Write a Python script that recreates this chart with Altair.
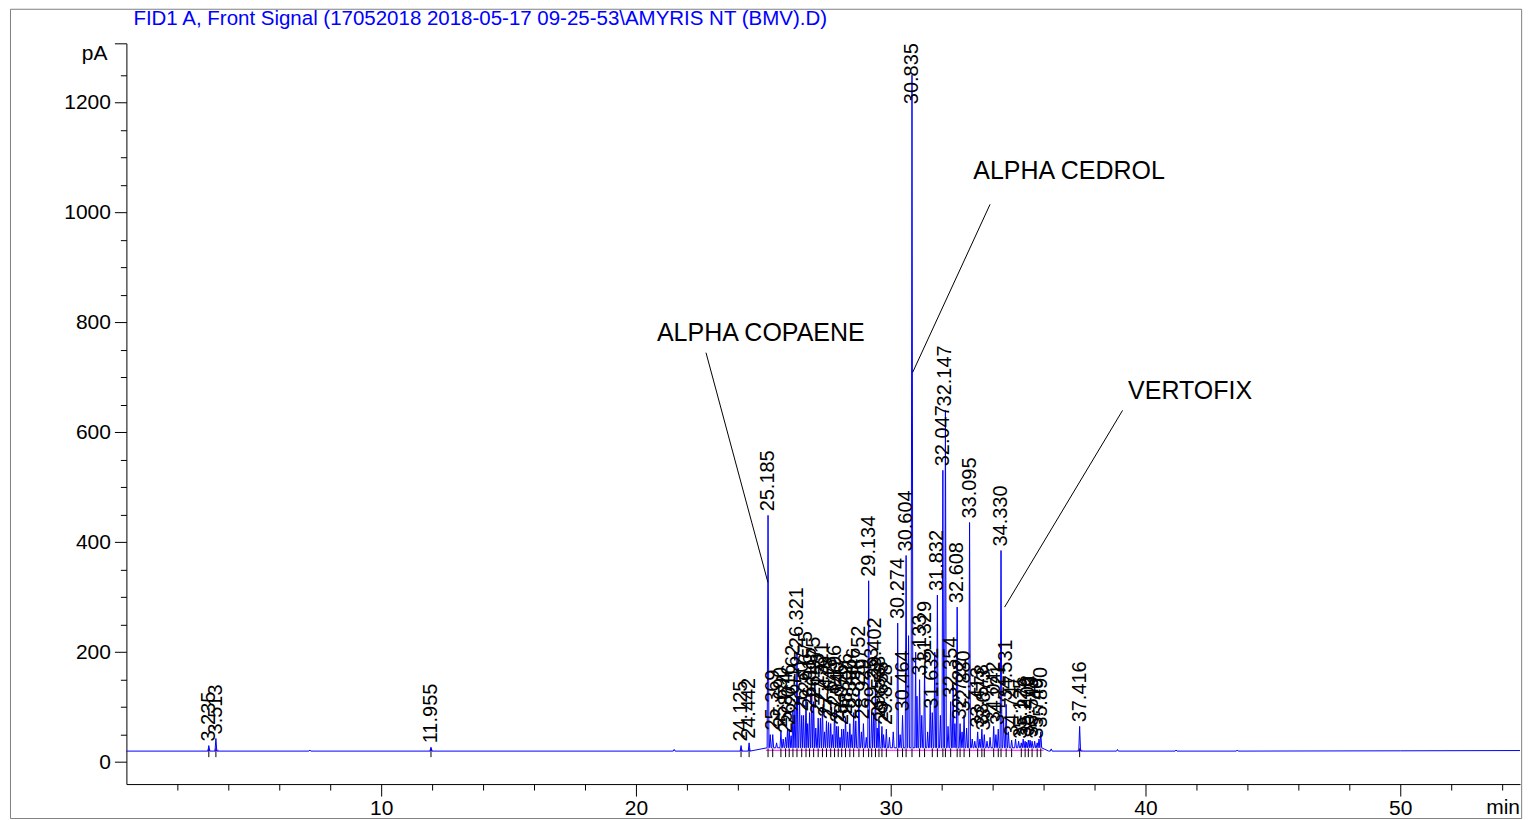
import altair as alt
import pandas as pd

FONT = "Liberation Sans"

title_text = "FID1 A, Front Signal (17052018 2018-05-17 09-25-53\\AMYRIS NT (BMV).D)"

# labelled peaks: retention time (min) and apex height (pA)
peak_rt = [3.235, 3.513, 11.955, 24.125, 24.442, 25.185, 25.369, 25.690, 25.874,
           26.016, 26.162, 26.321, 26.507, 26.675, 26.815, 26.975, 27.153, 27.321,
           27.479, 27.645, 27.796, 27.940, 28.076, 28.226, 28.396, 28.546, 28.752,
           28.929, 29.134, 29.253, 29.402, 29.538, 29.655, 29.828, 30.274, 30.464,
           30.604, 30.835, 31.133, 31.329, 31.632, 31.832, 32.047, 32.147, 32.354,
           32.608, 32.722, 32.880, 33.095, 33.413, 33.578, 33.673, 34.042, 34.221,
           34.330, 34.531, 34.747, 35.125, 35.276, 35.402, 35.549, 35.749, 35.890,
           37.416]
peak_pa = [30, 43, 27, 30, 35, 449, 50, 55, 45,
           60, 95, 200, 85, 120, 90, 110, 80, 100,
           75, 70, 95, 65, 60, 80, 70, 90, 130,
           70, 330, 90, 145, 75, 65, 60, 253, 85,
           376, 1250, 150, 175, 90, 304, 531, 640, 110,
           282, 70, 85, 436, 55, 60, 50, 65, 60,
           385, 105, 40, 35, 38, 40, 38, 35, 55,
           65]

# unlabelled small peaks
minor_rt = [7.20, 21.50, 25.27, 25.52, 25.78, 25.95, 26.09, 26.24, 26.42, 26.58,
            26.74, 26.90, 27.06, 27.24, 27.40, 27.56, 27.72, 27.87, 28.01, 28.15,
            28.31, 28.47, 28.63, 28.85, 29.04, 29.33, 29.47, 29.72, 29.95, 30.10,
            30.37, 30.70, 30.98, 31.03, 31.22, 31.45, 31.55, 31.73, 31.95, 32.25,
            32.45, 32.52, 32.80, 32.98, 33.20, 33.30, 33.50, 33.78, 33.90, 34.13,
            34.43, 34.62, 34.90, 35.02, 35.20, 35.33, 35.47, 35.65, 35.82, 36.30,
            38.90, 41.20, 43.60]
minor_pa = [22, 23, 50, 35, 42, 60, 48, 95, 120, 85,
            70, 130, 62, 80, 55, 72, 50, 65, 45, 60,
            55, 50, 75, 55, 45, 90, 62, 50, 45, 55,
            50, 230, 200, 120, 85, 55, 110, 200, 85, 65,
            140, 70, 55, 62, 42, 38, 42, 38, 45, 50,
            80, 55, 42, 38, 42, 36, 40, 38, 42, 24,
            23, 22, 22]

# detector baseline
base_t = [0.0, 36.2, 50.0, 54.7]
base_pa = [20, 20, 20.5, 21]

# integration baselines (magenta)
bl_start = [3.18, 3.46, 11.90, 24.08, 24.40, 25.10, 37.33]
bl_end = [3.30, 3.62, 12.02, 24.20, 24.50, 36.00, 37.52]

# compound annotations and leader lines
annot_text = ["ALPHA COPAENE", "ALPHA CEDROL", "VERTOFIX"]
annot_t = [24.9, 37.0, 41.75]
annot_pa = [780, 1076, 676]
lead_t1 = [22.75, 33.9, 39.1]
lead_pa1 = [745, 1015, 640]
lead_t2 = [25.18, 30.86, 34.47]
lead_pa2 = [327, 709, 282]

# ---- build tables ----
rows = [{"t": t, "pa": v} for t, v in zip(base_t, base_pa)]
for rt, h in list(zip(peak_rt, peak_pa)) + list(zip(minor_rt, minor_pa)):
    foot = 26 if 25.1 < rt < 36.0 else 20
    rows.append({"t": rt - 0.035, "pa": foot})
    rows.append({"t": rt, "pa": h})
    rows.append({"t": rt + 0.035, "pa": foot})
trace = pd.DataFrame(rows).sort_values("t")

peaks = pd.DataFrame({"rt": peak_rt, "pa": peak_pa,
                      "label": [f"{r:.3f}" for r in peak_rt]})
bls = pd.DataFrame({"s": bl_start, "e": bl_end})
annots = pd.DataFrame({"text": annot_text, "t": annot_t, "pa": annot_pa})
leads = pd.DataFrame({"t1": lead_t1, "p1": lead_pa1, "t2": lead_t2, "p2": lead_pa2})

X_MAX = 54.7
xs = alt.Scale(domain=[0, X_MAX], nice=False, zero=False)
ys = alt.Scale(domain=[-40, 1308], nice=False, zero=False)

x_axis = alt.Axis(
    values=list(range(2, 55, 2)),
    labelExpr="datum.value % 10 === 0 ? datum.label : ''",
    tickSize={"condition": {"test": "datum.value % 10 === 0", "value": 12}, "value": 6},
    title=None, grid=False, labelFlush=False, labelOverlap=False,
    labelPadding=1.5, domainColor="black", tickColor="black",
    labelFont=FONT, labelFontSize=21, labelColor="black", format="d",
)
y_axis = alt.Axis(
    values=list(range(0, 1300, 50)) + [1308],
    labelExpr="datum.value % 200 === 0 ? datum.label : ''",
    tickSize={"condition": {"test": "datum.value % 200 === 0 || datum.value > 1300", "value": 12}, "value": 6},
    title=None, grid=False, labelOverlap=False, labelFlush=False,
    labelPadding=4, domainColor="black", tickColor="black",
    labelFont=FONT, labelFontSize=21, labelColor="black", format="d",
)

X = lambda f: alt.X(f, scale=xs, axis=x_axis)
Y = lambda f: alt.Y(f, scale=ys, axis=y_axis)

one = alt.Data(values=[{"k": 0}])

frame = alt.Chart(one).mark_rect(fillOpacity=0, stroke="#808080", strokeWidth=1).encode(
    x=alt.value(-116), x2=alt.value(1396.5), y=alt.value(-34.1), y2=alt.value(775.9)
)
title = alt.Chart(one).mark_text(
    text=title_text, align="left", baseline="middle", font=FONT, fontSize=20.5, color="#0000ff"
).encode(x=alt.value(7), y=alt.value(-24.4))

line = alt.Chart(trace).mark_line(color="#0000ff", strokeWidth=1).encode(
    x=X("t:Q"), y=Y("pa:Q")
)
magenta = alt.Chart(bls).transform_calculate(lv="21.5").mark_rule(
    color="#ff00ff", strokeWidth=1
).encode(x=X("s:Q"), x2="e:Q", y=Y("lv:Q"))
ticks = alt.Chart(peaks).transform_calculate(lo="9", hi="25").mark_rule(
    color="black", strokeWidth=1
).encode(x=X("rt:Q"), y=Y("lo:Q"), y2="hi:Q")
labels = alt.Chart(peaks).transform_calculate(ly="min(datum.pa, 1190)").mark_text(
    angle=270, align="left", baseline="middle", dx=4, font=FONT, fontSize=20, color="black"
).encode(x=X("rt:Q"), y=Y("ly:Q"), text="label:N")
ann = alt.Chart(annots).mark_text(
    align="center", baseline="middle", font=FONT, fontSize=25, color="black"
).encode(x=X("t:Q"), y=Y("pa:Q"), text="text:N")
leaders = alt.Chart(leads).mark_rule(color="black", strokeWidth=1).encode(
    x=X("t1:Q"), y=Y("p1:Q"), x2="t2:Q", y2="p2:Q"
)
pa_lab = alt.Chart(alt.Data(values=[{"t": 0, "pa": 1308}])).mark_text(
    text="pA", align="right", baseline="top", dx=-19, font=FONT, fontSize=21, color="black"
).encode(x=X("t:Q"), y=Y("pa:Q"))
min_lab = alt.Chart(alt.Data(values=[{"t": X_MAX, "pa": -40}])).mark_text(
    text="min", align="right", baseline="middle", dy=24, font=FONT, fontSize=21, color="black"
).encode(x=X("t:Q"), y=Y("pa:Q"))

chart = alt.layer(
    frame, title, magenta, ticks, line, labels, leaders, ann, pa_lab, min_lab
).properties(
    width=X_MAX * 25.5, height=741.4,
    padding={"left": 1.5, "top": 0, "right": 0, "bottom": 0},
).configure_view(stroke=None)

chart.save("out.html", embed_options={"renderer": "svg", "actions": False})
